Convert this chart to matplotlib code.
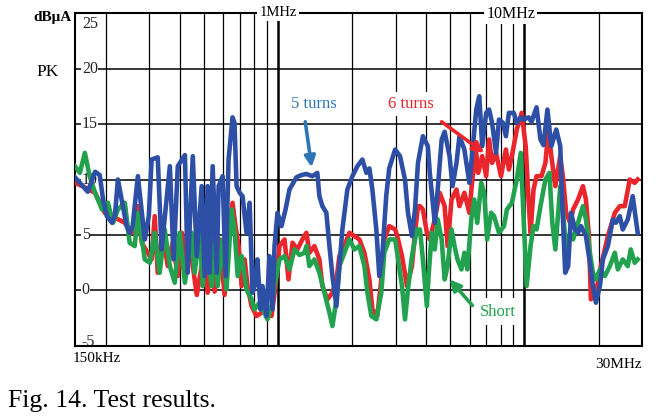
import matplotlib
matplotlib.use('Agg')
import matplotlib.pyplot as plt
import matplotlib.transforms as mtransforms

plt.rcParams['font.family'] = ['Liberation Serif', 'DejaVu Serif']

# ---------------- data (frequency in MHz, level in dBuA) ----------------
f_blue = [0.150, 0.169, 0.181, 0.189, 0.195, 0.202, 0.212, 0.218, 0.224, 0.232,
          0.243, 0.250, 0.257, 0.270, 0.288, 0.299, 0.307, 0.325, 0.337, 0.364,
          0.377, 0.392, 0.419, 0.430, 0.451, 0.468, 0.490, 0.504, 0.518, 0.528,
          0.543, 0.564, 0.574, 0.596, 0.613, 0.630, 0.654, 0.666, 0.679, 0.699,
          0.718, 0.745, 0.767, 0.788, 0.803, 0.825, 0.849, 0.865, 0.898, 0.923,
          0.950, 0.968, 0.995, 1.033, 1.073, 1.113, 1.188, 1.245, 1.304, 1.379,
          1.444, 1.472, 1.514, 1.571, 1.617, 1.663, 1.726, 1.775, 1.825, 1.912,
          2.004, 2.100, 2.200, 2.284, 2.349, 2.415, 2.506, 2.577, 2.649, 2.749,
          2.827, 2.988, 3.127, 3.276, 3.368, 3.496, 3.597, 3.699, 3.873, 4.056,
          4.131, 4.327, 4.448, 4.615, 4.745, 4.969, 5.109, 5.301, 5.450, 5.707,
          5.977, 6.145, 6.376, 6.556, 6.741, 6.994, 7.191, 7.393, 7.671, 7.886,
          8.183, 8.413, 8.650, 9.058, 9.312, 9.661, 9.932, 10.40, 10.69, 11.20,
          11.62, 11.95, 12.40, 12.86, 13.47, 13.98, 14.11, 14.64, 15.05, 15.47,
          16.05, 16.51, 16.97, 17.77, 18.44, 18.96, 19.50, 20.25, 20.82, 21.81,
          22.85, 23.50, 24.38, 25.07, 26.27, 27.51, 28.82]
v_blue = [10.2, 8.9, 10.7, 10.4, 8.2, 6.7, 6.1, 6.8, 10.0, 8.2,
          5.8, 5.2, 5.8, 10.3, 4.6, 6.7, 11.8, 12.0, 3.7, 11.2,
          2.8, 11.2, 12.2, 1.6, 12.1, 3.1, 9.4, 1.3, 9.4, 1.6,
          11.2, 1.6, 9.4, 10.3, 1.3, 11.8, 15.6, 15.1, 9.4, 8.8,
          8.5, 5.2, 7.9, -0.2, 0.4, 2.8, -1.7, 0.4, -2.3, 3.1,
          -1.7, 4.0, 7.0, 5.8, 7.3, 9.1, 10.2, 10.4, 10.5, 10.3,
          10.6, 8.5, 7.6, 7.0, 4.0, 1.3, -1.4, 2.2, 5.5, 9.1,
          10.3, 11.2, 11.8, 10.6, 11.0, 9.1, 5.5, 1.3, 3.1, 8.5,
          11.0, 12.7, 12.1, 10.0, 7.0, 4.9, 7.3, 11.5, 13.9, 13.0,
          10.6, 6.1, 9.1, 13.6, 14.3, 12.1, 9.4, 11.5, 13.9, 12.7,
          9.7, 12.4, 16.3, 17.5, 13.0, 16.0, 16.3, 15.1, 12.4, 15.4,
          15.1, 13.9, 16.0, 16.0, 15.1, 15.6, 15.4, 15.6, 15.2, 16.5,
          13.6, 13.1, 16.3, 13.0, 14.5, 13.0, 10.0, 1.6, 2.2, 7.0,
          5.5, 5.2, 5.8, 4.9, 2.5, 0.4, -1.1, 0.4, 2.8, 4.0,
          6.4, 6.1, 6.7, 5.5, 6.4, 8.5, 5.2]

f_red = [0.150, 0.161, 0.181, 0.198, 0.212, 0.239, 0.255, 0.270, 0.280, 0.307,
         0.316, 0.325, 0.340, 0.357, 0.374, 0.392, 0.407, 0.427, 0.438, 0.468,
         0.490, 0.504, 0.518, 0.538, 0.553, 0.579, 0.607, 0.635, 0.654, 0.672,
         0.692, 0.712, 0.732, 0.752, 0.781, 0.818, 0.857, 0.898, 0.941, 0.977,
         1.014, 1.063, 1.103, 1.145, 1.199, 1.256, 1.304, 1.341, 1.405, 1.472,
         1.514, 1.586, 1.663, 1.726, 1.775, 1.859, 1.949, 2.042, 2.140, 2.242,
         2.349, 2.415, 2.529, 2.625, 2.699, 2.827, 2.988, 3.071, 3.186, 3.337,
         3.496, 3.597, 3.699, 3.767, 3.873, 4.019, 4.131, 4.327, 4.531, 4.745,
         4.878, 5.061, 5.301, 5.450, 5.707, 5.977, 6.145, 6.376, 6.496, 6.741,
         6.994, 7.191, 7.393, 7.671, 8.033, 8.413, 8.650, 8.893, 9.312, 9.751,
         10.12, 10.40, 10.59, 10.89, 11.20, 11.73, 12.17, 12.51, 12.86, 13.35,
         13.98, 14.37, 14.77, 15.33, 15.76, 16.51, 17.28, 17.77, 18.27, 18.61,
         19.50, 20.44, 21.81, 23.28, 24.38, 25.54, 26.76, 28.02, 28.82]
v_red = [9.7, 9.4, 8.8, 7.0, 6.7, 6.1, 5.2, 7.6, 4.3, 2.8,
         6.7, 1.6, 5.2, 2.2, 4.3, 1.3, 5.2, 2.2, 4.3, -0.4,
         2.2, 2.8, -0.2, 2.8, -0.1, 4.6, -0.4, 5.5, 7.9, 5.8,
         4.0, 0.4, 2.8, 0.4, -1.4, -2.3, -2.0, -1.7, -2.3, 0.4,
         4.0, 4.6, 1.0, 4.3, 3.7, 4.6, 5.2, 3.4, 4.0, 2.8,
         0.4, -0.8, -0.2, 1.0, 3.1, 4.0, 5.2, 4.9, 4.6, 3.4,
         1.0, -1.7, -2.3, 1.0, 4.6, 5.8, 5.5, 4.6, 3.1, 0.4,
         2.2, 5.2, 7.6, 7.6, 7.3, 5.2, 4.6, 6.4, 8.8, 7.6,
         4.0, 8.2, 9.1, 7.6, 8.8, 7.0, 10.0, 12.4, 10.6, 12.1,
         10.3, 13.6, 11.5, 12.4, 10.3, 12.7, 10.9, 12.1, 14.5, 16.0,
         13.0, 8.0, 5.2, 9.1, 10.3, 10.3, 11.5, 14.5, 12.1, 9.4,
         12.1, 10.0, 7.0, 6.1, 7.3, 8.2, 9.4, 8.2, 4.9, -0.8,
         -0.2, 2.2, 4.9, 7.0, 7.6, 7.6, 10.0, 9.7, 10.0]

f_green = [0.150, 0.157, 0.1645, 0.172, 0.181, 0.193, 0.204, 0.214, 0.224, 0.239,
           0.250, 0.262, 0.270, 0.288, 0.302, 0.316, 0.331, 0.347, 0.364, 0.381,
           0.399, 0.419, 0.446, 0.459, 0.481, 0.495, 0.513, 0.538, 0.553, 0.569,
           0.596, 0.618, 0.648, 0.666, 0.686, 0.712, 0.745, 0.781, 0.803, 0.841,
           0.881, 0.906, 0.941, 0.968, 1.014, 1.063, 1.113, 1.167, 1.222, 1.280,
           1.304, 1.341, 1.405, 1.472, 1.542, 1.617, 1.663, 1.726, 1.775, 1.859,
           1.949, 2.042, 2.140, 2.242, 2.306, 2.393, 2.506, 2.625, 2.699, 2.827,
           2.988, 3.071, 3.186, 3.276, 3.368, 3.496, 3.664, 3.767, 3.873, 4.019,
           4.093, 4.208, 4.327, 4.448, 4.615, 4.745, 4.878, 5.061, 5.204, 5.351,
           5.551, 5.707, 5.867, 6.087, 6.259, 6.436, 6.679, 6.866, 7.059, 7.325,
           7.531, 7.886, 8.259, 8.491, 8.893, 9.312, 9.661, 9.932, 10.21, 10.59,
           10.89, 11.20, 11.62, 12.17, 12.63, 12.98, 13.35, 13.98, 14.37, 14.77,
           15.33, 15.76, 16.51, 17.28, 17.77, 18.44, 18.96, 19.50, 20.25, 21.21,
           22.22, 23.28, 23.94, 25.07, 26.27, 27.00, 28.02, 28.82]
v_green = [11.2, 10.6, 12.4, 10.3, 8.8, 7.3, 7.9, 6.1, 7.3, 7.9,
           4.3, 4.0, 7.0, 2.8, 2.5, 5.2, 1.6, 5.5, 2.2, 0.7,
           5.2, 0.7, 5.2, 1.6, 5.2, 0.4, 4.3, 0.4, 5.2, 0.4,
           4.6, 0.1, 7.3, 5.5, 1.3, 3.1, 0.1, -0.8, -1.7, -1.1,
           -2.0, -2.6, -1.4, 0.4, 2.8, 3.1, 1.9, 3.7, 3.2, 3.4,
           4.0, 2.2, 2.8, 1.6, -0.2, -2.0, -3.2, -0.8, 2.2, 3.4,
           4.6, 3.7, 4.0, 2.2, -0.2, -2.3, -2.6, -0.2, 3.4, 4.6,
           4.6, 2.8, 0.4, -2.6, 0.1, 3.1, 5.5, 5.5, 2.8, -1.4,
           1.6, 5.2, 3.7, 6.4, 4.6, 1.0, 2.2, 5.5, 4.0, 2.8,
           1.9, 3.4, 1.9, 6.4, 8.2, 6.1, 9.7, 8.8, 4.6, 7.0,
           6.7, 5.2, 5.8, 7.3, 7.9, 10.0, 12.4, 6.4, 0.4, 4.0,
           5.8, 5.5, 7.6, 10.0, 10.6, 6.1, 3.7, 9.4, 7.0, 3.4,
           5.2, 4.6, 6.1, 7.6, 6.4, 3.4, 1.6, 1.0, 1.9, 1.3,
           2.2, 3.4, 1.9, 2.8, 2.2, 3.7, 2.5, 2.8]

minor_grid_x = [0.2, 0.3, 0.4, 0.5, 0.6, 0.7, 0.8, 0.9,
                2, 3, 4, 5, 6, 7, 8, 9, 20]
major_grid_x = [1, 10]
grid_y = [20, 15, 10, 5, 0]
ytick_vals = [24.0, 20, 15, 10, 5, 0, -4.6]
ytick_labels = ['25', '20', '15', '10', '5', '0', '-5']

BLUE = '#2D4FA6'
RED = '#E8262B'
GREEN = '#22A24E'
BLUE_TXT = '#2E75B6'

# ---------------- figure ----------------
fig = plt.figure(figsize=(6.63, 4.16), dpi=100)
ax = fig.add_axes([0.1131, 0.1683, 0.8552, 0.8004])
ax.set_xscale('log')
ax.set_xlim(0.15, 30)
ax.set_ylim(-5, 25)
ax.tick_params(which='both', length=0, labelbottom=False, labelleft=False)

for xv in minor_grid_x:
    ax.axvline(xv, color='black', lw=0.9, zorder=1)
for xv in major_grid_x:
    ax.axvline(xv, color='black', lw=1.8, zorder=1)
for yv in grid_y:
    ax.axhline(yv, color='black', lw=1.1, zorder=1)
for s in ax.spines.values():
    s.set_linewidth(1.5)
    s.set_color('black')

ax.plot(f_red, v_red, color=RED, lw=3.3, solid_joinstyle='round', zorder=3)
ax.plot(f_green, v_green, color=GREEN, lw=3.3, solid_joinstyle='round', zorder=3.1)
ax.plot(f_blue, v_blue, color=BLUE, lw=3.3, solid_joinstyle='round', zorder=3.2)

trans = mtransforms.blended_transform_factory(ax.transAxes, ax.transData)
for yv, lab in zip(ytick_vals, ytick_labels):
    ax.text(0.012, yv, lab, transform=trans, ha='left', va='center',
            fontsize=11.5, color='#222222',
            bbox=dict(facecolor='white', edgecolor='none', pad=0.5), zorder=2)

# frequency labels at top
ax.text(1.0, 25.6, '1MHz', ha='center', va='top', fontsize=10.5,
        bbox=dict(facecolor='white', edgecolor='none', pad=1.5),
        zorder=5, clip_on=False)
ax.text(8.8, 25.6, '10MHz', ha='center', va='top', fontsize=11.5,
        bbox=dict(facecolor='white', edgecolor='none', pad=1.5),
        zorder=5, clip_on=False)

# outside labels
fig.text(72 / 663, 1 - 17 / 416, 'dBμA', ha='right', va='center',
         fontsize=11, fontweight='bold')
fig.text(48 / 663, 1 - 72 / 416, 'PK', ha='center', va='center', fontsize=12.5)
fig.text(73 / 663, 1 - 358 / 416, '150kHz', ha='left', va='center', fontsize=11)
fig.text(642 / 663, 1 - 364 / 416, '30MHz', ha='right', va='center', fontsize=11)
fig.text(8 / 663, 1 - 401 / 416, 'Fig. 14. Test results.', ha='left',
         va='center', fontsize=18.5)

# annotations
ax.text(1.40, 16.8, '5 turns', color=BLUE_TXT, ha='center', va='center',
        fontsize=12, bbox=dict(facecolor='white', edgecolor='none', pad=2), zorder=5)
ax.text(3.46, 16.8, '6 turns', color=RED, ha='center', va='center',
        fontsize=12, bbox=dict(facecolor='white', edgecolor='none', pad=3), zorder=5)
ax.text(7.8, -1.9, 'Short', color=GREEN, ha='center', va='center',
        fontsize=12, bbox=dict(facecolor='white', edgecolor='none', pad=4), zorder=5)

arrow_kw = dict(arrowstyle='-|>', lw=2.6, mutation_scale=16, shrinkA=0, shrinkB=0)
ax.annotate('', xy=(1.37, 11.1), xytext=(1.29, 15.2),
            arrowprops=dict(color=BLUE_TXT, **arrow_kw), zorder=6)
ax.annotate('', xy=(6.87, 12.4), xytext=(4.61, 15.2),
            arrowprops=dict(color=RED, **arrow_kw), zorder=6)
ax.annotate('', xy=(4.97, 1.0), xytext=(6.15, -1.35),
            arrowprops=dict(color=GREEN, **arrow_kw), zorder=6)

fig.savefig('out.png', dpi=100)
